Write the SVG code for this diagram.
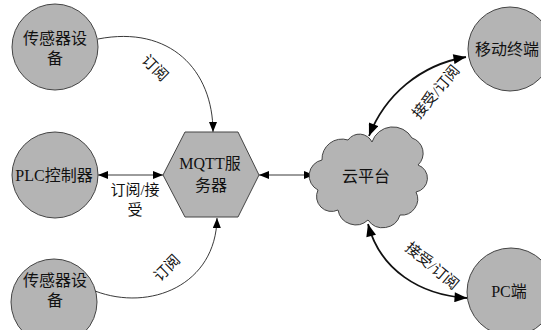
<svg xmlns="http://www.w3.org/2000/svg" width="541" height="330" viewBox="0 0 541 330">
<defs>
<style>
.node{fill:#b4b4b4;stroke:#444;stroke-width:1}
.t{font-family:"Liberation Serif","Noto Sans CJK SC",serif;font-size:16px;fill:#111;text-anchor:middle;dominant-baseline:central}
.lb{font-family:"Liberation Serif","Noto Sans CJK SC",serif;font-size:15px;fill:#111;text-anchor:middle;dominant-baseline:central}
.thin{fill:none;stroke:#222;stroke-width:0.9}
.thick{fill:none;stroke:#111;stroke-width:1.8}
</style>
<marker id="a" viewBox="0 0 10 8" refX="10" refY="4" markerWidth="11" markerHeight="8" markerUnits="userSpaceOnUse" orient="auto-start-reverse"><path d="M0,0 L10,4 L0,8 z" fill="#000"/></marker>
<marker id="b" viewBox="0 0 10 8" refX="10" refY="4" markerWidth="14" markerHeight="10" markerUnits="userSpaceOnUse" orient="auto-start-reverse"><path d="M0,0 L10,4 L0,8 z" fill="#000"/></marker>
</defs>
<rect width="541" height="330" fill="#fff"/>
<g id="connectors">
<path class="thin" d="M98,39 C170,25 213,70 213,132" marker-end="url(#a)"/>
<path class="thin" d="M98,175 L163,175" marker-start="url(#a)" marker-end="url(#a)"/>
<path class="thin" d="M95,291 C150,312 216,285 217,218" marker-end="url(#a)"/>
<path class="thin" d="M259,175 L314,175" marker-start="url(#a)" marker-end="url(#a)"/>
<path class="thick" d="M369,136 C385,95 420,65 466,57" marker-start="url(#b)" marker-end="url(#b)"/>
<path class="thick" d="M368,224 C380,270 420,295 467,298" marker-start="url(#b)" marker-end="url(#b)"/>
<text class="lb" transform="translate(155,68) rotate(45)">订阅</text>
<text class="lb" x="135" y="190">订阅/接</text>
<text class="lb" x="135" y="210">受</text>
<text class="lb" transform="translate(167,268) rotate(-45)">订阅</text>
<text class="lb" transform="translate(436,92) rotate(-50)">接受/订阅</text>
<text class="lb" transform="translate(432,266) rotate(40)">接受/订阅</text>
</g>
<g id="sensor1"><circle class="node" cx="55" cy="47" r="43"/><text class="t" x="55" y="38">传感器设</text><text class="t" x="55" y="58">备</text></g>
<g id="plc"><circle class="node" cx="55" cy="175" r="43"/><text class="t" x="54" y="175">PLC控制器</text></g>
<g id="sensor2"><circle class="node" cx="54" cy="302" r="43"/><text class="t" x="55" y="280">传感器设</text><text class="t" x="55" y="300">备</text></g>
<g id="mqtt"><polygon class="node" points="185,132 238,132 259,175 238,217 185,217 163,175"/><text class="t" x="210" y="163">MQTT服</text><text class="t" x="211" y="185">务器</text></g>
<g id="cloud"><path class="node" d="M322,160 A20,20 0 0 1 348,140 A14,14 0 0 1 372,142 A22,22 0 0 1 412,138 A16,16 0 0 1 418,165 A14,14 0 0 1 416,192 A16,16 0 0 1 400,215 A18,18 0 0 1 368,220 A18,18 0 0 1 338,210 A15,15 0 0 1 318,190 A16,16 0 0 1 322,160 Z"/><text class="t" x="366" y="176">云平台</text></g>
<g id="mobile"><circle class="node" cx="510" cy="49" r="42"/><text class="t" x="507" y="49">移动终端</text></g>
<g id="pc"><circle class="node" cx="511" cy="292" r="44"/><text class="t" x="509" y="291">PC端</text></g>
</svg>
